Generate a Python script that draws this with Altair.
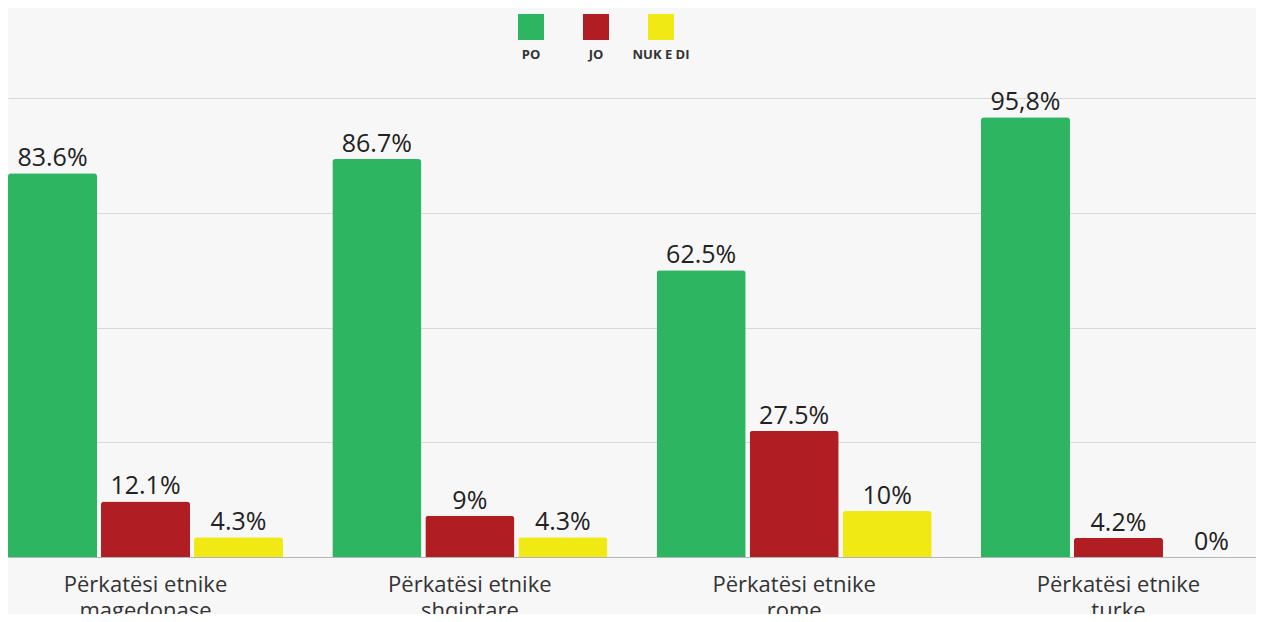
import altair as alt
import pandas as pd

categories = [
    "Përkatësi etnike\nmagedonase",
    "Përkatësi etnike\nshqiptare",
    "Përkatësi etnike\nrome",
    "Përkatësi etnike\nturke",
]
series = ["PO", "JO", "NUK E DI"]
colors = ["#2eb562", "#b01e24", "#f0e914"]

values = {
    "PO": [83.6, 86.7, 62.5, 95.8],
    "JO": [12.1, 9.0, 27.5, 4.2],
    "NUK E DI": [4.3, 4.3, 10.0, 0.0],
}
labels = {
    "PO": ["83.6%", "86.7%", "62.5%", "95,8%"],
    "JO": ["12.1%", "9%", "27.5%", "4.2%"],
    "NUK E DI": ["4.3%", "4.3%", "10%", "0%"],
}

rows = []
for s in series:
    for c, v, l in zip(categories, values[s], labels[s]):
        rows.append({"category": c, "series": s, "value": v, "label": l})
df = pd.DataFrame(rows)
legend_df = pd.DataFrame({"series": series})

FONT = "Open Sans"

x_enc = alt.X(
    "category:N",
    sort=categories,
    scale=alt.Scale(paddingInner=0.152, paddingOuter=0),
    axis=alt.Axis(
        title=None,
        labelExpr="split(datum.label, '\\n')",
        labelAngle=0,
        labelFontSize=22,
        labelFont=FONT,
        labelColor="#333333",
        labelLineHeight=26,
        labelPadding=17,
        ticks=False,
        domain=True,
        domainColor="#b5b5b5",
        grid=False,
    ),
)
xoff_enc = alt.XOffset(
    "series:N", sort=series, scale=alt.Scale(paddingInner=0.043, paddingOuter=0)
)
y_enc = alt.Y(
    "value:Q",
    scale=alt.Scale(domain=[0, 100], nice=False),
    axis=alt.Axis(
        title=None,
        values=[0, 25, 50, 75, 100],
        labels=False,
        ticks=False,
        domain=False,
        grid=True,
        gridColor="#d9d9d9",
        gridWidth=1,
    ),
)
color_enc = alt.Color(
    "series:N", scale=alt.Scale(domain=series, range=colors), legend=None
)

bars = alt.Chart(df).mark_bar(
    cornerRadiusTopLeft=3, cornerRadiusTopRight=3
).encode(x=x_enc, xOffset=xoff_enc, y=y_enc, color=color_enc)

texts = alt.Chart(df).mark_text(
    font=FONT, fontSize=25, color="#222222", baseline="alphabetic", dy=-7
).encode(x=x_enc, xOffset=xoff_enc, y=y_enc, text="label:N")

main = alt.layer(bars, texts)

leg_x = alt.X(
    "series:N",
    sort=series,
    scale=alt.Scale(type="point", range=[523, 653], padding=0),
    axis=None,
)
leg_sq = alt.Chart(legend_df).mark_square(size=676, opacity=1).encode(
    x=leg_x, y=alt.value(-71), color=color_enc
)
leg_txt = alt.Chart(legend_df).mark_text(
    font=FONT, fontSize=13, fontWeight="bold", color="#333333", baseline="middle"
).encode(x=leg_x, y=alt.value(-43), text="series:N")

legend = alt.layer(leg_sq, leg_txt)

chart = (
    alt.layer(main, legend)
    .resolve_scale(x="independent")
    .properties(
        width=1248,
        height=459,
        autosize=alt.AutoSizeParams(type="none"),
        padding={"left": 0, "top": 90, "right": 0, "bottom": 57},
        background="#f7f7f7",
    )
    .configure_view(stroke=None)
)

chart.save("out.html", embed_options={"renderer": "svg", "actions": False})
